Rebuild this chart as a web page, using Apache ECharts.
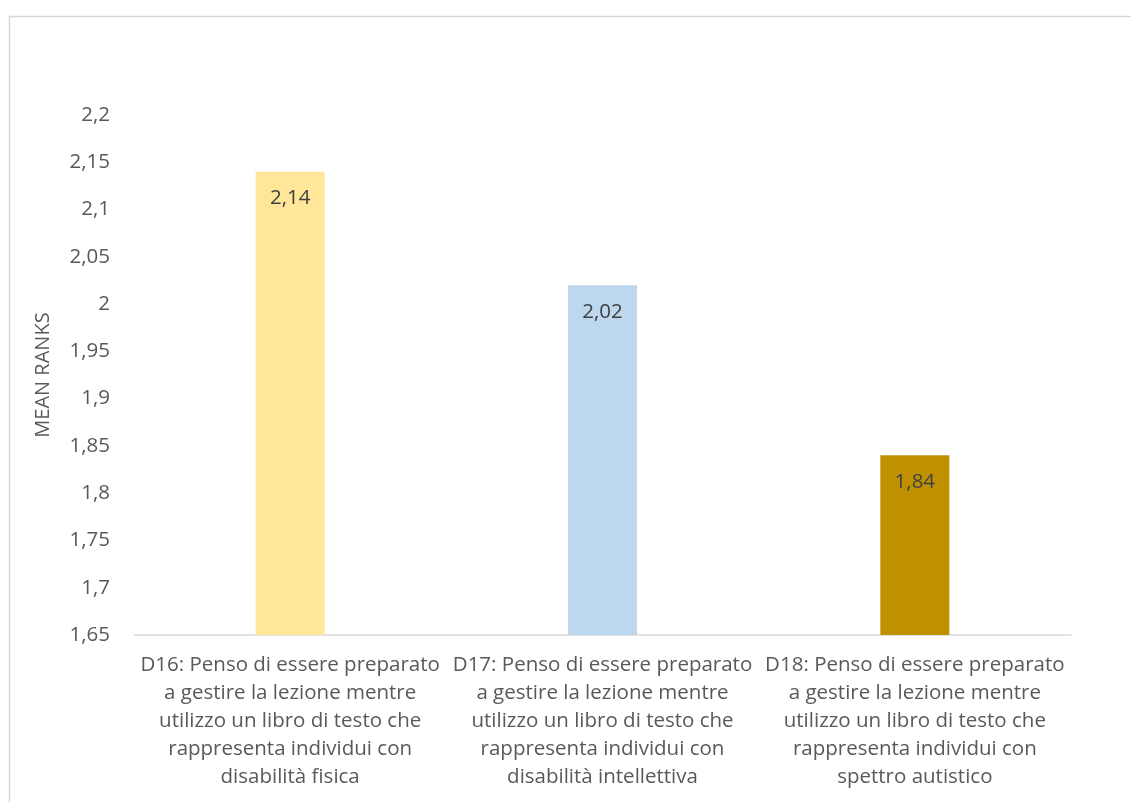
<!DOCTYPE html>
<html><head><meta charset="utf-8">
<script src="https://cdn.jsdelivr.net/npm/echarts@6/dist/echarts.min.js"></script>
<style>html,body{margin:0;padding:0;background:#fff}#c{width:1131px;height:802px}</style>
</head><body><div id="c"></div>
<script>
const categories = [
  "D16: Penso di essere preparato\na gestire la lezione mentre\nutilizzo un libro di testo che\nrappresenta individui con\ndisabilità fisica",
  "D17: Penso di essere preparato\na gestire la lezione mentre\nutilizzo un libro di testo che\nrappresenta individui con\ndisabilità intellettiva",
  "D18: Penso di essere preparato\na gestire la lezione mentre\nutilizzo un libro di testo che\nrappresenta individui con\nspettro autistico"
];
const meanRanks = [2.14, 2.02, 1.84];
const barColors = ["#FFE699", "#BDD7EE", "#BF9000"];
const yAxisName = "MEAN RANKS";

const fmt = v => String(Math.round(v * 100) / 100).replace('.', ',');
const FONT = "Open Sans";
const chart = echarts.init(document.getElementById('c'), null, {renderer: 'canvas'});
chart.setOption({
  animation: false,
  backgroundColor: '#fff',
  textStyle: {fontFamily: FONT},
  graphic: [{type: 'rect', shape: {x: 9.5, y: 16.5, width: 1300, height: 900}, style: {fill: 'none', stroke: '#d9d9d9', lineWidth: 1.5}, silent: true}],
  grid: {left: 134, right: 60, top: 115, bottom: 167},
  xAxis: {
    type: 'category', data: categories,
    axisLine: {lineStyle: {color: '#d9d9d9', width: 1.5}},
    axisTick: {show: false},
    axisLabel: {color: '#595959', fontSize: 20.5, fontFamily: FONT, lineHeight: 28, margin: 16, interval: 0}
  },
  yAxis: {
    type: 'value', min: 1.65, max: 2.2, interval: 0.05,
    name: yAxisName, nameLocation: 'middle', nameGap: 81,
    nameTextStyle: {color: '#595959', fontSize: 20, fontFamily: FONT},
    axisLine: {show: false}, axisTick: {show: false}, splitLine: {show: false},
    axisLabel: {color: '#595959', fontSize: 20.5, fontFamily: FONT, margin: 24, formatter: fmt}
  },
  series: [{
    type: 'bar', barWidth: 69,
    data: meanRanks.map((v, i) => ({value: v, itemStyle: {color: barColors[i]}})),
    label: {show: true, position: 'insideTop', distance: 16, color: '#404040', fontSize: 20.5, fontFamily: FONT,
      formatter: p => fmt(p.value)}
  }]
});
</script></body></html>
